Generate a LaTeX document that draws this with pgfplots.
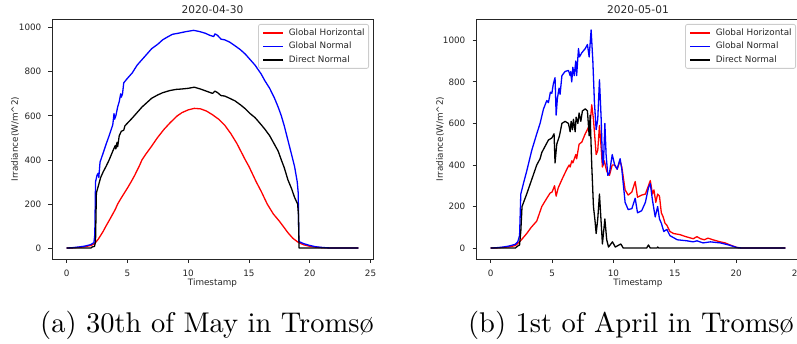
\documentclass[border=0pt]{standalone}
\usepackage{fontspec}
\usepackage{pgfplots}
\pgfplotsset{compat=1.18}
\newfontfamily\dejavu{DejaVu Sans}
\newfontfamily\capfont{lmroman10-regular.otf}
\definecolor{mplred}{rgb}{1,0,0}
\definecolor{mplblue}{rgb}{0,0,1}
\pgfplotsset{
  mpl/.style={
    scale only axis,
    height=240pt,
    xmin=-1.2, xmax=25.2,
    xtick={0,5,...,25},
    tick align=outside,
    tick pos=left,
    major tick length=3.5pt,
    tick style={black!85, line width=0.8pt},
    axis line style={black!85, line width=0.8pt},
    every tick label/.append style={font=\dejavu\fontsize{8.8}{10}\selectfont, text=black!85},
    xticklabel style={inner sep=0pt, anchor=north, yshift=-7pt},
    yticklabel style={inner sep=0pt, anchor=east, xshift=-7pt},
    /pgf/number format/assume math mode=true,
    /pgf/number format/1000 sep={},
    xlabel={Timestamp},
    ylabel={Irradiance(W/m\textasciicircum 2)},
    xlabel style={font=\dejavu\fontsize{8.8}{10}\selectfont, text=black!85, at={(axis description cs:0.5,0)}, anchor=center, yshift=-23.7pt},
    ylabel style={font=\dejavu\fontsize{8.8}{10}\selectfont, text=black!85, anchor=center},
    every axis title shift=0pt,
    title style={font=\dejavu\fontsize{10.6}{12}\selectfont, text=black!85, at={(axis description cs:0.5,1)}, anchor=center, yshift=9pt},
    legend cell align=left,
    legend image code/.code={\draw[#1] (0pt,0pt) -- (20pt,0pt);},
    legend style={at={(axis description cs:1,1)}, anchor=north east, xshift=-4pt, yshift=-5pt,
      draw=black!20, line width=0.8pt, rounded corners=2pt, fill=white,
      font=\dejavu\fontsize{8.8}{10}\selectfont, text=black!85,
      inner xsep=4pt, inner ysep=4.25pt, row sep=5pt, column sep=5pt,
      nodes={inner sep=0pt, text height=6.5pt, text depth=2pt}},
    every axis plot/.append style={line width=1.3pt, line join=round, mark=none},
  }
}
\begin{document}
\begin{tikzpicture}
\begin{axis}[mpl, width=321pt, at={(52pt,84pt)}, anchor=south west,
  ymin=-49.5, ymax=1039.5, ytick={0,200,...,1000},
  title={2020-04-30}, ylabel style={at={(axis description cs:-0.1153,0.5)}}]
\addplot[mplred] coordinates {
(0,0) (0.5,1) (1,3) (1.5,6) (2,12) (2.3,20) (2.6,40) (3,75) (3.24,100) (3.5,125) (4,175) (4.2,200)
(4.5,228) (5,272) (5.3,300) (5.6,330) (6,375) (6.2,400) (6.5,425) (7,463) (7.46,500) (8,538)
(8.5,568) (9.1,600) (9.5,615) (10,627) (10.5,634) (11,632) (11.5,622) (12,605) (12.5,585)
(13,558) (13.5,520) (14,475) (14.7,400) (15,370) (15.6,300) (16,258) (16.5,200) (17,155)
(17.5,122) (17.8,100) (18.2,70) (18.6,45) (19,28) (19.2,22) (19.5,15) (20,8) (20.5,4) (21,2)
(21.5,1) (22,0) (24,0)};
\addlegendentry{Global Horizontal}
\addplot[mplblue] coordinates {
(0,0) (0.5,2) (1,5) (1.5,9) (2,16) (2.25,25) (2.32,60) (2.38,300) (2.5,330) (2.6,340) (2.65,320)
(2.75,390) (3,430) (3.24,470) (3.5,510) (3.8,560) (3.9,610) (3.95,585) (4.05,600) (4.2,640)
(4.33,665) (4.45,700) (4.5,685) (4.6,700) (4.7,750) (5,770) (5.4,795) (5.8,830) (6.2,855)
(6.6,880) (7,905) (7.5,925) (7.9,945) (8.3,958) (8.7,970) (9.2,975) (9.8,982) (10.45,988)
(10.9,983) (11.4,975) (11.8,965) (12.1,960) (12.2,972) (12.4,966) (12.7,948) (13,945)
(13.4,935) (13.85,918) (14.3,900) (14.7,880) (15.1,855) (15.5,830) (16,790) (16.3,760)
(16.7,725) (17.1,680) (17.4,640) (17.66,600) (17.9,555) (18.2,490) (18.5,425) (18.75,370)
(18.97,300) (19.05,250) (19.1,30) (19.5,20) (20,12) (20.5,6) (21,3) (21.5,1) (22,0) (24,0)};
\addlegendentry{Global Normal}
\addplot[black] coordinates {
(0,0) (1,0) (2,0) (2.1,5) (2.3,8) (2.38,30) (2.45,250) (2.6,280) (2.8,320) (3,345) (3.24,370)
(3.5,400) (3.8,440) (4.0,465) (4.05,450) (4.15,480) (4.2,460) (4.33,510) (4.5,530) (4.7,535)
(4.8,555) (5.4,590) (5.8,615) (6.2,640) (6.6,660) (7,680) (7.5,695) (7.9,705) (8.5,715)
(9,720) (9.5,722) (10,725) (10.5,730) (11,722) (11.5,712) (12,702) (12.2,712) (12.4,706)
(12.7,692) (13,690) (13.4,680) (13.85,668) (14.3,650) (14.7,632) (15.1,610) (15.5,592)
(16,560) (16.3,540) (16.7,510) (17.1,470) (17.4,440) (17.66,400) (17.9,365) (18.2,310)
(18.5,270) (18.75,230) (19,200) (19.07,150) (19.12,0) (24,0)};
\addlegendentry{Direct Normal}
\end{axis}
\begin{axis}[mpl, width=324pt, at={(476pt,84pt)}, anchor=south west,
  ymin=-52.5, ymax=1102.5, ytick={0,200,...,1000},
  title={2020-05-01}, ylabel style={at={(axis description cs:-0.111,0.5)}}]
\addplot[mplred] coordinates {
(0,0) (0.5,1) (1,3) (1.5,6) (2,12) (2.2,22) (2.5,40) (2.93,70) (3.3,100) (3.75,130) (4.16,200)
(4.57,240) (4.84,265) (5.0,270) (5.2,300) (5.33,250) (5.5,290) (5.8,330) (6.2,380) (6.39,400)
(6.47,390) (6.6,420) (6.69,410) (6.93,450) (7.0,430) (7.2,500) (7.42,510) (7.7,550) (7.96,580)
(8.05,560) (8.23,690) (8.37,620) (8.59,450) (8.72,470) (8.86,590) (9.0,480) (9.1,390)
(9.25,420) (9.45,370) (9.67,350) (9.9,400) (10.1,400) (10.3,380) (10.54,420) (10.68,390)
(10.95,280) (11.2,255) (11.5,270) (11.77,320) (11.96,245) (12.3,255) (12.6,260) (12.85,300)
(13.0,325) (13.18,260) (13.3,280) (13.45,220) (13.6,260) (13.75,250) (13.9,170) (14.05,150)
(14.2,120) (14.35,110) (14.6,80) (14.9,70) (15.4,65) (15.9,55) (16.5,45) (16.8,55) (17.1,45)
(17.4,40) (17.7,48) (18.1,40) (18.7,30) (19.1,25) (19.5,15) (20.05,3) (20.5,0) (24,0)};
\addlegendentry{Global Horizontal}
\addplot[mplblue] coordinates {
(0,0) (0.5,2) (1,5) (1.5,10) (2,18) (2.2,30) (2.35,60) (2.45,260) (2.66,310) (2.93,370)
(3.34,470) (3.75,550) (4.02,600) (4.3,670) (4.57,710) (4.7,700) (4.86,750) (4.98,745) (5.1,790)
(5.24,820) (5.33,640) (5.43,720) (5.57,770) (5.65,740) (5.8,830) (6.06,850) (6.33,855)
(6.47,830) (6.52,850) (6.6,800) (6.69,870) (6.8,830) (6.93,900) (7.0,830) (7.15,960) (7.23,920)
(7.42,940) (7.7,960) (7.88,980) (8.02,920) (8.18,1050) (8.32,900) (8.45,700) (8.59,570)
(8.72,620) (8.86,810) (9.0,620) (9.1,420) (9.18,400) (9.3,600) (9.4,450) (9.54,350) (9.67,360)
(9.9,450) (10.1,400) (10.3,380) (10.54,430) (10.68,380) (10.95,220) (11.2,185) (11.5,190)
(11.77,240) (11.96,170) (12.3,180) (12.6,220) (12.85,290) (13.0,310) (13.18,230) (13.4,150)
(13.6,200) (13.75,140) (13.9,120) (14.1,80) (14.35,90) (14.6,60) (15.2,40) (16.0,35) (16.5,30)
(16.8,35) (17.3,25) (17.9,30) (18.7,25) (19.4,15) (20.05,3) (20.5,0) (24,0)};
\addlegendentry{Global Normal}
\addplot[black] coordinates {
(0,0) (2,0) (2.2,10) (2.35,15) (2.45,80) (2.55,200) (2.93,260) (3.34,330) (3.75,400) (4.02,430)
(4.16,460) (4.43,490) (4.7,520) (4.98,530) (5.16,550) (5.24,410) (5.38,500) (5.6,540) (5.8,600)
(6.06,610) (6.33,600) (6.47,560) (6.55,610) (6.66,570) (6.74,620) (6.88,560) (6.96,630)
(7.1,600) (7.2,650) (7.34,610) (7.47,660) (7.7,670) (7.88,660) (8.02,540) (8.1,640) (8.23,400)
(8.37,200) (8.5,130) (8.59,70) (8.72,140) (8.86,260) (9.0,120) (9.1,20) (9.3,140) (9.45,40)
(9.6,5) (9.92,30) (10.15,5) (10.6,20) (10.8,0) (12.7,0) (12.85,15) (13.0,0) (13.55,0) (13.6,5)
(13.7,0) (24,0)};
\addlegendentry{Direct Normal}
\end{axis}
\node[anchor=base, font=\capfont\fontsize{28.5}{34}\selectfont] at (207pt,11pt) {(a) 30th of May in Tromsø};
\node[anchor=base, font=\capfont\fontsize{28.5}{34}\selectfont] at (631pt,11pt) {(b) 1st of April in Tromsø};
\pgfresetboundingbox
\path[use as bounding box] (0,0) rectangle (797pt,343pt);
\end{tikzpicture}
\end{document}
